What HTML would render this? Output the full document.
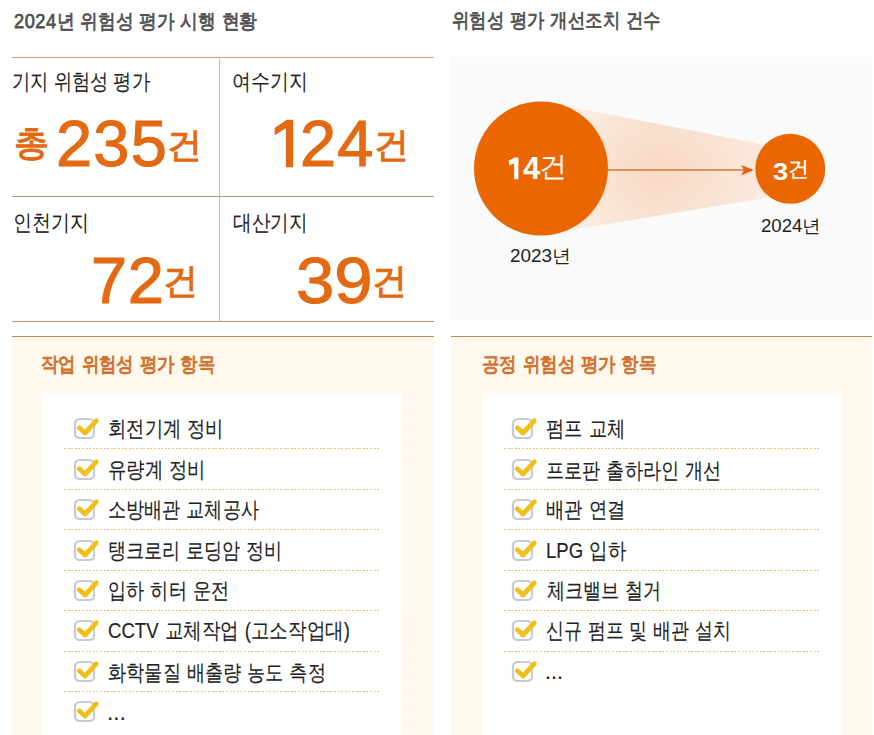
<!DOCTYPE html>
<html><head><meta charset="utf-8">
<style>
html,body{margin:0;padding:0;background:#fff;}
body{width:874px;height:735px;position:relative;overflow:hidden;font-family:"Liberation Sans",sans-serif;}
.a{position:absolute;white-space:nowrap;line-height:1;transform-origin:0 0;}
.title{font-size:20px;color:#505050;-webkit-text-stroke:0.75px #505050;word-spacing:1px;}
.dg{font-size:20.5px;letter-spacing:0.6px;}
.hl{position:absolute;height:1.5px;background:#c99a68;}
.vl{position:absolute;width:1.2px;background:#cfc27a;}
.lab{font-size:21.5px;color:#222;-webkit-text-stroke:0.1px #222;}
.num{color:#e36a12;-webkit-text-stroke:1.1px #e36a12;}
.big{font-size:65px;}
.gun{font-size:35px;-webkit-text-stroke:1.1px #e36a12;}
.panel{position:absolute;top:337px;height:398px;background:repeating-linear-gradient(-45deg,#fff8eb 0 3px,#fffaf1 3px 6px);}
.pline{position:absolute;top:335.5px;height:1.6px;background:#c08a55;}
.ptitle{font-size:20px;color:#d3722e;-webkit-text-stroke:1px #d3722e;word-spacing:1px;}
.wbox{position:absolute;top:392.5px;height:343px;background:#fff;}
.dl{position:absolute;height:1px;background:repeating-linear-gradient(90deg,#e4c76e 0 2px,transparent 2px 3.6px);}
.item{font-size:22px;color:#222;-webkit-text-stroke:0.15px #222;word-spacing:1px;}
.yr{font-size:18px;color:#222;}
.cb{position:absolute;}
.wt{color:#fff;}
</style></head><body>

<div class="hl" style="left:12px;width:422px;top:56.5px;background:#d6a070;"></div>
<div class="hl" style="left:12px;width:422px;top:195.5px;"></div>
<div class="hl" style="left:12px;width:422px;top:320.5px;"></div>
<div class="vl" style="left:219px;top:57px;height:264px;"></div>

<div class="a num" style="left:14px;top:125px;font-size:35px;-webkit-text-stroke:1.3px #e36a12;">총</div>
<div class="a num big" style="left:56px;top:111px;letter-spacing:1.2px;">235</div>
<div class="a num gun" style="left:167px;top:127px;">건</div>

<svg style="position:absolute;left:0;top:0" width="440" height="200"><path d="M274.6,128 L286.8,119.8 L293.2,119.8 L293.2,167.2 L285.9,167.2 L285.9,128.2 L274.6,135.2 Z" fill="#e36a12"/></svg>
<div class="a num big" style="left:300px;top:111px;letter-spacing:1px;">24</div>
<div class="a num gun" style="left:374px;top:127px;">건</div>

<div class="a num big" style="left:91px;top:248px;letter-spacing:0.5px;">72</div>
<div class="a num gun" style="left:163px;top:263px;">건</div>

<div class="a num big" style="left:296.4px;top:248px;transform:scaleX(1.06);">39</div>
<div class="a num gun" style="left:372px;top:263px;">건</div>

<div style="position:absolute;left:450px;top:56.5px;width:422px;height:264px;background:#fafafa;"></div>
<svg style="position:absolute;left:0;top:0;" width="874" height="330">
  <defs>
    <linearGradient id="cg" x1="541" y1="0" x2="790" y2="0" gradientUnits="userSpaceOnUse">
      <stop offset="0" stop-color="#fcf0e8"/>
      <stop offset="0.45" stop-color="#fae4d4"/>
      <stop offset="1" stop-color="#fbece2"/>
    </linearGradient>
    <radialGradient id="rg" cx="660" cy="169" r="110" gradientUnits="userSpaceOnUse" gradientTransform="translate(660 169) scale(1 0.6) translate(-660 -169)">
      <stop offset="0" stop-color="#f6d2b8" stop-opacity="0.6"/>
      <stop offset="1" stop-color="#f6d2b8" stop-opacity="0"/>
    </radialGradient>
  </defs>
  <polygon points="541,101.3 790,149.5 790,194 541,235" fill="url(#cg)"/>
  <polygon points="541,101.3 790,149.5 790,194 541,235" fill="url(#rg)"/>
  <circle cx="541" cy="168.5" r="67" fill="#ea6600"/>
  <circle cx="790.3" cy="168.8" r="35" fill="#ea6600"/>
  <line x1="608" y1="170" x2="745" y2="170" stroke="#cf7a3a" stroke-width="1.5"/>
  <path d="M741,165 L754,170 L741,175.5 L744,170 Z" fill="#e3660f"/>
  <path d="M508.6,160.6 L514.8,157.5 L518.4,157.5 L518.4,179.2 L514.1,179.2 L514.1,163.3 L509.3,165.5 Z" fill="#fff"/>
</svg>
<div class="a wt" style="left:523px;top:152.8px;font-size:31px;font-weight:bold;">4</div>
<div class="a wt" style="left:539px;top:153px;font-size:28px;">건</div>
<div class="a wt" style="left:773px;top:159.5px;font-size:24px;font-weight:bold;transform:scaleX(1.13);">3</div>
<div class="a wt" style="left:788px;top:158px;font-size:21px;-webkit-text-stroke:0.3px #fff;">건</div>

<div class="panel" style="left:12px;width:422px;"></div>
<div class="pline" style="left:12px;width:422px;"></div>
<div class="wbox" style="left:42px;width:360px;"></div>

<div class="panel" style="left:451px;width:421px;"></div>
<div class="pline" style="left:451px;width:421px;"></div>
<div class="wbox" style="left:483px;width:358px;"></div>

<div class="dl" style="left:64px;width:317px;top:448.40px;"></div>
<svg class="cb" style="left:72.80px;top:417.15px" width="28" height="25" viewBox="0 0 28 25"><rect x="2" y="2" width="19" height="19" rx="4.5" fill="none" stroke="#c9c9cf" stroke-width="2.2"/><path d="M6.3,10.8 L12,16 L23.3,3.8" fill="none" stroke="#f1bf1c" stroke-width="4.8" stroke-linecap="round" stroke-linejoin="round"/></svg>
<div class="dl" style="left:64px;width:317px;top:488.85px;"></div>
<svg class="cb" style="left:72.80px;top:457.60px" width="28" height="25" viewBox="0 0 28 25"><rect x="2" y="2" width="19" height="19" rx="4.5" fill="none" stroke="#c9c9cf" stroke-width="2.2"/><path d="M6.3,10.8 L12,16 L23.3,3.8" fill="none" stroke="#f1bf1c" stroke-width="4.8" stroke-linecap="round" stroke-linejoin="round"/></svg>
<div class="dl" style="left:64px;width:317px;top:529.30px;"></div>
<svg class="cb" style="left:72.80px;top:498.05px" width="28" height="25" viewBox="0 0 28 25"><rect x="2" y="2" width="19" height="19" rx="4.5" fill="none" stroke="#c9c9cf" stroke-width="2.2"/><path d="M6.3,10.8 L12,16 L23.3,3.8" fill="none" stroke="#f1bf1c" stroke-width="4.8" stroke-linecap="round" stroke-linejoin="round"/></svg>
<div class="dl" style="left:64px;width:317px;top:569.75px;"></div>
<svg class="cb" style="left:72.80px;top:538.50px" width="28" height="25" viewBox="0 0 28 25"><rect x="2" y="2" width="19" height="19" rx="4.5" fill="none" stroke="#c9c9cf" stroke-width="2.2"/><path d="M6.3,10.8 L12,16 L23.3,3.8" fill="none" stroke="#f1bf1c" stroke-width="4.8" stroke-linecap="round" stroke-linejoin="round"/></svg>
<div class="dl" style="left:64px;width:317px;top:610.20px;"></div>
<svg class="cb" style="left:72.80px;top:578.95px" width="28" height="25" viewBox="0 0 28 25"><rect x="2" y="2" width="19" height="19" rx="4.5" fill="none" stroke="#c9c9cf" stroke-width="2.2"/><path d="M6.3,10.8 L12,16 L23.3,3.8" fill="none" stroke="#f1bf1c" stroke-width="4.8" stroke-linecap="round" stroke-linejoin="round"/></svg>
<div class="dl" style="left:64px;width:317px;top:650.65px;"></div>
<svg class="cb" style="left:72.80px;top:619.40px" width="28" height="25" viewBox="0 0 28 25"><rect x="2" y="2" width="19" height="19" rx="4.5" fill="none" stroke="#c9c9cf" stroke-width="2.2"/><path d="M6.3,10.8 L12,16 L23.3,3.8" fill="none" stroke="#f1bf1c" stroke-width="4.8" stroke-linecap="round" stroke-linejoin="round"/></svg>
<div class="dl" style="left:64px;width:317px;top:691.10px;"></div>
<svg class="cb" style="left:72.80px;top:659.85px" width="28" height="25" viewBox="0 0 28 25"><rect x="2" y="2" width="19" height="19" rx="4.5" fill="none" stroke="#c9c9cf" stroke-width="2.2"/><path d="M6.3,10.8 L12,16 L23.3,3.8" fill="none" stroke="#f1bf1c" stroke-width="4.8" stroke-linecap="round" stroke-linejoin="round"/></svg>
<svg class="cb" style="left:72.80px;top:700.30px" width="28" height="25" viewBox="0 0 28 25"><rect x="2" y="2" width="19" height="19" rx="4.5" fill="none" stroke="#c9c9cf" stroke-width="2.2"/><path d="M6.3,10.8 L12,16 L23.3,3.8" fill="none" stroke="#f1bf1c" stroke-width="4.8" stroke-linecap="round" stroke-linejoin="round"/></svg>
<div class="dl" style="left:503.5px;width:317.0px;top:448.40px;"></div>
<svg class="cb" style="left:511.30px;top:417.15px" width="28" height="25" viewBox="0 0 28 25"><rect x="2" y="2" width="19" height="19" rx="4.5" fill="none" stroke="#c9c9cf" stroke-width="2.2"/><path d="M6.3,10.8 L12,16 L23.3,3.8" fill="none" stroke="#f1bf1c" stroke-width="4.8" stroke-linecap="round" stroke-linejoin="round"/></svg>
<div class="dl" style="left:503.5px;width:317.0px;top:488.85px;"></div>
<svg class="cb" style="left:511.30px;top:457.60px" width="28" height="25" viewBox="0 0 28 25"><rect x="2" y="2" width="19" height="19" rx="4.5" fill="none" stroke="#c9c9cf" stroke-width="2.2"/><path d="M6.3,10.8 L12,16 L23.3,3.8" fill="none" stroke="#f1bf1c" stroke-width="4.8" stroke-linecap="round" stroke-linejoin="round"/></svg>
<div class="dl" style="left:503.5px;width:317.0px;top:529.30px;"></div>
<svg class="cb" style="left:511.30px;top:498.05px" width="28" height="25" viewBox="0 0 28 25"><rect x="2" y="2" width="19" height="19" rx="4.5" fill="none" stroke="#c9c9cf" stroke-width="2.2"/><path d="M6.3,10.8 L12,16 L23.3,3.8" fill="none" stroke="#f1bf1c" stroke-width="4.8" stroke-linecap="round" stroke-linejoin="round"/></svg>
<div class="dl" style="left:503.5px;width:317.0px;top:569.75px;"></div>
<svg class="cb" style="left:511.30px;top:538.50px" width="28" height="25" viewBox="0 0 28 25"><rect x="2" y="2" width="19" height="19" rx="4.5" fill="none" stroke="#c9c9cf" stroke-width="2.2"/><path d="M6.3,10.8 L12,16 L23.3,3.8" fill="none" stroke="#f1bf1c" stroke-width="4.8" stroke-linecap="round" stroke-linejoin="round"/></svg>
<div class="dl" style="left:503.5px;width:317.0px;top:610.20px;"></div>
<svg class="cb" style="left:511.30px;top:578.95px" width="28" height="25" viewBox="0 0 28 25"><rect x="2" y="2" width="19" height="19" rx="4.5" fill="none" stroke="#c9c9cf" stroke-width="2.2"/><path d="M6.3,10.8 L12,16 L23.3,3.8" fill="none" stroke="#f1bf1c" stroke-width="4.8" stroke-linecap="round" stroke-linejoin="round"/></svg>
<div class="dl" style="left:503.5px;width:317.0px;top:650.65px;"></div>
<svg class="cb" style="left:511.30px;top:619.40px" width="28" height="25" viewBox="0 0 28 25"><rect x="2" y="2" width="19" height="19" rx="4.5" fill="none" stroke="#c9c9cf" stroke-width="2.2"/><path d="M6.3,10.8 L12,16 L23.3,3.8" fill="none" stroke="#f1bf1c" stroke-width="4.8" stroke-linecap="round" stroke-linejoin="round"/></svg>
<svg class="cb" style="left:511.30px;top:659.85px" width="28" height="25" viewBox="0 0 28 25"><rect x="2" y="2" width="19" height="19" rx="4.5" fill="none" stroke="#c9c9cf" stroke-width="2.2"/><path d="M6.3,10.8 L12,16 L23.3,3.8" fill="none" stroke="#f1bf1c" stroke-width="4.8" stroke-linecap="round" stroke-linejoin="round"/></svg>
<div class="a title" style="left:13.60px;top:10.70px;transform:scaleX(0.8869);"><span class="dg">2024</span>년 위험성 평가 시행 현황</div>
<div class="a title" style="left:452.00px;top:10.30px;transform:scaleX(0.8697);">위험성 평가 개선조치 건수</div>
<div class="a lab" style="left:11.80px;top:72.40px;transform:scaleX(0.8311);">기지 위험성 평가</div>
<div class="a lab" style="left:232.00px;top:72.40px;transform:scaleX(0.8576);">여수기지</div>
<div class="a lab" style="left:13.00px;top:213.25px;transform:scaleX(0.8617);">인천기지</div>
<div class="a lab" style="left:233.20px;top:213.25px;transform:scaleX(0.8449);">대산기지</div>
<div class="a ptitle" style="left:41.40px;top:353.55px;transform:scaleX(0.8718);">작업 위험성 평가 항목</div>
<div class="a ptitle" style="left:481.70px;top:354.35px;transform:scaleX(0.8733);">공정 위험성 평가 항목</div>
<div class="a yr" style="left:510.30px;top:247.00px;transform:scaleX(1.0499);">2023년</div>
<div class="a yr" style="left:760.60px;top:217.25px;transform:scaleX(1.0341);">2024년</div>
<div class="a item" style="left:107.70px;top:418.45px;transform:scaleX(0.8317);">회전기계 정비</div>
<div class="a item" style="left:107.70px;top:458.58px;transform:scaleX(0.8330);">유량계 정비</div>
<div class="a item" style="left:107.70px;top:499.40px;transform:scaleX(0.8239);">소방배관 교체공사</div>
<div class="a item" style="left:107.70px;top:539.69px;transform:scaleX(0.8221);">탱크로리 로딩암 정비</div>
<div class="a item" style="left:107.70px;top:580.35px;transform:scaleX(0.8275);">입하 히터 운전</div>
<div class="a item" style="left:107.70px;top:620.48px;transform:scaleX(0.8436);">CCTV 교체작업 (고소작업대)</div>
<div class="a item" style="left:107.70px;top:662.30px;transform:scaleX(0.8272);">화학물질 배출량 농도 측정</div>
<div class="a item" style="left:106.70px;top:701.80px;transform:scaleX(1.0305);">...</div>
<div class="a item" style="left:545.80px;top:418.45px;transform:scaleX(0.8328);">펌프 교체</div>
<div class="a item" style="left:545.80px;top:459.58px;transform:scaleX(0.8263);">프로판 출하라인 개선</div>
<div class="a item" style="left:545.80px;top:499.40px;transform:scaleX(0.8349);">배관 연결</div>
<div class="a item" style="left:545.80px;top:539.69px;transform:scaleX(0.8415);">LPG 입하</div>
<div class="a item" style="left:546.80px;top:580.35px;transform:scaleX(0.8217);">체크밸브 철거</div>
<div class="a item" style="left:545.80px;top:620.48px;transform:scaleX(0.8151);">신규 펌프 및 배관 설치</div>
<div class="a item" style="left:544.80px;top:661.35px;transform:scaleX(0.9770);">...</div>
</body></html>
